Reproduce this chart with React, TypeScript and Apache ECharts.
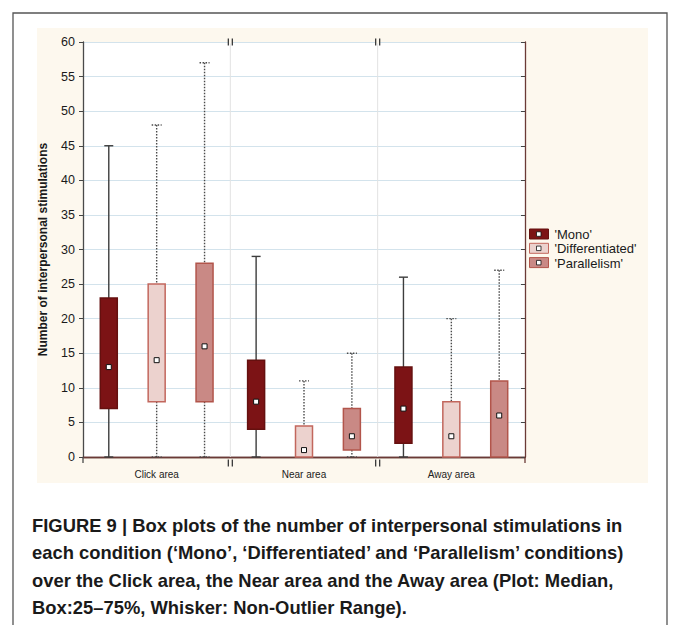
import React, { useEffect, useRef } from "react";
import * as echarts from "echarts";

const categories = ["Click area", "Near area", "Away area"];
const conditions = ["'Mono'", "'Differentiated'", "'Parallelism'"];
// [min, Q1, median, Q3, max] per area
const monoStats = [
  [0, 7, 13, 23, 45],
  [0, 4, 8, 14, 29],
  [0, 2, 7, 13, 26],
];
const diffStats = [
  [0, 8, 14, 25, 48],
  [0, 0, 1, 4.5, 11],
  [0, 0, 3, 8, 20],
];
const paraStats = [
  [0, 8, 16, 28, 57],
  [0, 1, 3, 7, 15],
  [0, 0, 6, 11, 27],
];
const yMin = 0;
const yMax = 60;
const yInterval = 5;

const captionLines = [
  "FIGURE 9 | Box plots of the number of interpersonal stimulations in",
  "each condition (\u2018Mono\u2019, \u2018Differentiated\u2019 and \u2018Parallelism\u2019 conditions)",
  "over the Click area, the Near area and the Away area (Plot: Median,",
  "Box:25\u201375%, Whisker: Non-Outlier Range).",
];

const fills = ["#7c1315", "#ecd2ce", "#c98985"];
const strokes = ["#65100f", "#c2675d", "#b2554b"];
const dashedWhisker = [false, true, true];
const offsets = [-0.325, 0, 0.325];
const CREAM = "#fdf8ee";
const FONT = "'Liberation Sans', Arial, Helvetica, sans-serif";
const CAP_FONT = "bold 19px 'Liberation Sans', Arial, sans-serif";

function makeRender(k: number) {
  return (params: any, api: any) => {
    const i = api.value(0);
    const bw = api.size([1, 0])[0];
    const x = api.coord([i, 0])[0] + offsets[k] * bw;
    const y = (n: number) => api.coord([i, api.value(n)])[1];
    const vMin = y(1), q1 = y(2), med = y(3), q3 = y(4), vMax = y(5);
    const ls: any = {
      stroke: dashedWhisker[k] ? "#4a4a4a" : "#3d3d3d",
      lineWidth: 1.4,
      lineDash: dashedWhisker[k] ? [1.5, 1.5] : null,
    };
    const half = 8.5;
    const cap = dashedWhisker[k] ? 5 : 4.5;
    return {
      type: "group",
      children: [
        { type: "line", shape: { x1: x, y1: vMax, x2: x, y2: q3 }, style: ls },
        { type: "line", shape: { x1: x, y1: q1, x2: x, y2: vMin }, style: ls },
        { type: "line", shape: { x1: x - cap, y1: vMax, x2: x + cap, y2: vMax }, style: ls },
        { type: "line", shape: { x1: x - cap, y1: vMin, x2: x + cap, y2: vMin }, style: ls },
        {
          type: "rect",
          shape: { x: x - half, y: q3, width: half * 2, height: Math.max(q1 - q3, 0.5) },
          style: { fill: fills[k], stroke: strokes[k], lineWidth: 1.5 },
        },
        {
          type: "rect",
          shape: { x: x - 2.5, y: med - 2.5, width: 5, height: 5 },
          style: { fill: "#fff", stroke: "#111", lineWidth: 1 },
        },
      ],
    };
  };
}

function decorRender(params: any, api: any) {
  const cs = params.coordSys;
  const x0 = cs.x, y0 = cs.y, w = cs.width, h = cs.height;
  const yb = y0 + h + 6;
  const children: any[] = [];
  for (const f of [1 / 3, 2 / 3]) {
    const bx = x0 + w * f;
    children.push({
      type: "line",
      shape: { x1: bx, y1: y0, x2: bx, y2: y0 + h },
      style: { stroke: "#e2e2e2", lineWidth: 1 },
    });
    for (const yy of [y0, yb]) {
      children.push({
        type: "rect",
        shape: { x: bx - 1.5, y: yy - 1.5, width: 3, height: 3 },
        style: { fill: CREAM, stroke: null },
      });
      children.push({
        type: "line",
        shape: { x1: bx - 2, y1: yy - 3.5, x2: bx - 2, y2: yy + 3.5 },
        style: { stroke: "#3a3a3a", lineWidth: 1.3 },
      });
      children.push({
        type: "line",
        shape: { x1: bx + 2, y1: yy - 3.5, x2: bx + 2, y2: yy + 3.5 },
        style: { stroke: "#3a3a3a", lineWidth: 1.3 },
      });
    }
  }
  children.push({
    type: "line",
    shape: { x1: x0, y1: y0 + h, x2: x0, y2: yb },
    style: { stroke: "#4a4a4a", lineWidth: 1.3 },
  });
  children.push({
    type: "line",
    shape: { x1: x0 + w, y1: y0 + h, x2: x0 + w, y2: yb },
    style: { stroke: "#6b3a36", lineWidth: 1.3 },
  });
  return { type: "group", children };
}

function measure(text: string): number {
  const c = document.createElement("canvas").getContext("2d");
  if (!c) return text.length * 9;
  c.font = CAP_FONT;
  return c.measureText(text).width;
}

export default function App() {
  const ref = useRef<HTMLDivElement>(null);
  useEffect(() => {
    if (!ref.current) return;
    const chart = echarts.init(ref.current, null, { renderer: "svg" });
    const statsList = [monoStats, diffStats, paraStats];
    const legendChildren: any[] = [];
    conditions.forEach((name, k) => {
      const ty = k * 14.3;
      legendChildren.push({
        type: "rect",
        shape: { x: 0, y: ty, width: 19, height: 10 },
        style: { fill: fills[k], stroke: strokes[k], lineWidth: 1 },
      });
      legendChildren.push({
        type: "rect",
        shape: { x: 7, y: ty + 2.8, width: 4.5, height: 4.5 },
        style: { fill: "#fff", stroke: "#111", lineWidth: 0.8 },
      });
      legendChildren.push({
        type: "text",
        x: 25,
        y: ty + 5.5,
        style: {
          text: name,
          fill: "#1a1a1a",
          font: `13px ${FONT}`,
          verticalAlign: "middle",
        },
      });
    });
    // horizontal condensing so the caption matches the reference's narrow face
    const fullLine = captionLines[1];
    const sx = Math.min(1, 594 / measure(fullLine));
    const baselines = [535, 562, 589.5, 617];
    const captionEls = captionLines.map((t, i) => ({
      type: "text",
      x: 32,
      y: baselines[i],
      scaleX: sx,
      style: {
        text: t,
        fill: "#1a1a1a",
        font: CAP_FONT,
        verticalAlign: "bottom",
      },
    }));
    const option: any = {
      animation: false,
      backgroundColor: "#fff",
      graphic: [
        {
          type: "rect",
          z: -10,
          shape: { x: 13, y: 13, width: 654, height: 640 },
          style: { fill: "#fff", stroke: "#555", lineWidth: 1.3 },
        },
        {
          type: "rect",
          z: -9,
          shape: { x: 37, y: 28, width: 611, height: 455 },
          style: { fill: CREAM, stroke: null },
        },
        {
          type: "group",
          left: 529,
          top: 228,
          children: legendChildren,
        },
        ...captionEls,
      ],
      grid: {
        left: 83,
        right: 149,
        top: 42,
        bottom: 168,
        show: true,
        backgroundColor: "#fff",
        borderWidth: 0,
      },
      xAxis: [
        {
          type: "category",
          data: categories,
          position: "bottom",
          offset: 6,
          axisLine: { lineStyle: { color: "#5a3a37", width: 1.4 } },
          axisTick: { alignWithLabel: true, length: 3, lineStyle: { color: "#444" } },
          axisLabel: { fontSize: 10, color: "#222", margin: 6, fontFamily: FONT },
        },
        {
          type: "category",
          data: categories,
          position: "top",
          axisLine: { lineStyle: { color: "#6b3a36", width: 1.3 } },
          axisTick: { alignWithLabel: true, length: 3, lineStyle: { color: "#444" } },
          axisLabel: { show: false },
        },
      ],
      yAxis: [
        {
          type: "value",
          min: yMin,
          max: yMax,
          interval: yInterval,
          position: "left",
          name: "Number of interpersonal stimulations",
          nameLocation: "middle",
          nameGap: 34,
          nameTextStyle: { fontSize: 12, fontWeight: "bold", color: "#1a1a1a", fontFamily: FONT },
          axisLine: { show: true, lineStyle: { color: "#4a4a4a", width: 1.3 } },
          axisTick: { show: true, length: 4, lineStyle: { color: "#444" } },
          axisLabel: { fontSize: 12.5, color: "#1a1a1a", margin: 8, fontFamily: FONT },
          splitLine: { show: true, lineStyle: { color: "#d3e3ec", width: 1 } },
        },
        {
          type: "value",
          min: yMin,
          max: yMax,
          interval: yInterval,
          position: "right",
          axisLine: { show: true, lineStyle: { color: "#6b3a36", width: 1.3 } },
          axisTick: { show: true, inside: true, length: 4, lineStyle: { color: "#444" } },
          axisLabel: { show: false },
          splitLine: { show: false },
        },
      ],
      series: [
        {
          type: "custom",
          name: "decor",
          xAxisIndex: 0,
          yAxisIndex: 0,
          renderItem: decorRender,
          data: [[0]],
          silent: true,
        },
        ...conditions.map((name, k) => ({
          type: "custom",
          name,
          xAxisIndex: 0,
          yAxisIndex: 0,
          renderItem: makeRender(k),
          encode: { x: 0, y: [1, 2, 3, 4, 5] },
          data: statsList[k].map((s, i) => [i, ...s]),
        })),
      ],
    };
    chart.setOption(option);
    return () => chart.dispose();
  }, []);
  return (
    <div
      ref={ref}
      style={{ position: "absolute", left: 0, top: 0, width: 674, height: 625 }}
    />
  );
}
